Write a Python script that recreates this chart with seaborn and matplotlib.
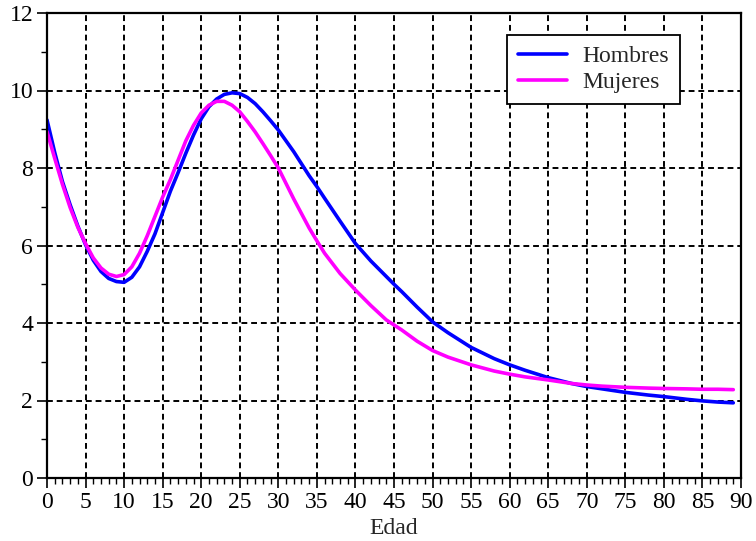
import numpy as np
import pandas as pd
import seaborn as sns
import matplotlib.pyplot as plt
from matplotlib.ticker import MultipleLocator

# Data
edad = [0, 1, 2, 3, 4, 5, 6, 7, 8, 9, 10, 11, 12, 13, 14, 15, 16, 17, 18, 19,
        20, 21, 22, 23, 24, 25, 26, 27, 28, 29, 30, 32, 34, 35, 36, 38, 40,
        42, 44, 45, 46, 48, 50, 52, 55, 58, 60, 62, 65, 68, 70, 72, 75, 78,
        80, 83, 85, 87, 89]

hombres = [9.24, 8.40, 7.65, 7.05, 6.50, 6.02, 5.62, 5.33, 5.15, 5.07, 5.05,
           5.18, 5.45, 5.85, 6.30, 6.85, 7.40, 7.88, 8.38, 8.85, 9.27, 9.58,
           9.78, 9.90, 9.94, 9.92, 9.82, 9.66, 9.45, 9.22, 8.98, 8.42, 7.80,
           7.52, 7.22, 6.63, 6.05, 5.60, 5.20, 5.00, 4.81, 4.41, 4.03, 3.75,
           3.37, 3.08, 2.92, 2.78, 2.59, 2.44, 2.36, 2.30, 2.21, 2.14, 2.10,
           2.03, 1.99, 1.96, 1.94]

mujeres = [8.94, 8.25, 7.58, 6.98, 6.47, 6.05, 5.68, 5.42, 5.26, 5.20, 5.25,
           5.45, 5.80, 6.25, 6.75, 7.25, 7.70, 8.20, 8.70, 9.10, 9.42, 9.62,
           9.72, 9.72, 9.62, 9.45, 9.20, 8.93, 8.63, 8.32, 8.00, 7.20, 6.45,
           6.12, 5.80, 5.28, 4.85, 4.45, 4.08, 3.95, 3.82, 3.53, 3.29, 3.12,
           2.92, 2.76, 2.68, 2.61, 2.53, 2.44, 2.40, 2.37, 2.34, 2.32, 2.31,
           2.30, 2.29, 2.29, 2.28]

df = pd.DataFrame({
    'Edad': edad * 2,
    'valor': hombres + mujeres,
    'grupo': ['Hombres'] * len(edad) + ['Mujeres'] * len(edad),
})

sns.set_style('white')
plt.rcParams['font.family'] = ['Liberation Serif', 'DejaVu Serif']

fig = plt.figure(figsize=(7.56, 5.41), dpi=100)
ax = fig.add_axes([47 / 756, 1 - 478 / 541, 694 / 756, 465 / 541])

sns.lineplot(data=df, x='Edad', y='valor', hue='grupo',
             palette={'Hombres': '#0000ff', 'Mujeres': '#ff00ff'},
             linewidth=2.6, ax=ax)

ax.set_xlim(0, 90)
ax.set_ylim(0, 12)
ax.xaxis.set_major_locator(MultipleLocator(5))
ax.xaxis.set_minor_locator(MultipleLocator(1))
ax.yaxis.set_major_locator(MultipleLocator(2))
ax.yaxis.set_minor_locator(MultipleLocator(1))

ax.grid(True, which='major', color='black', linestyle=(0, (3, 2)), linewidth=1.4)
ax.set_axisbelow(True)

for s in ax.spines.values():
    s.set_color('black')
    s.set_linewidth(1.6)
    s.set_visible(True)

ax.tick_params(which='both', bottom=True, left=True, top=False, right=False)
ax.tick_params(which='major', direction='out', length=7, width=1.2,
               color='black', labelsize=17, labelcolor='black', pad=3)
ax.tick_params(which='minor', direction='out', length=4, width=1.0, color='black')

ax.set_xlabel('Edad', fontsize=17, labelpad=4)
ax.set_ylabel('')

leg = ax.legend(loc='upper right', bbox_to_anchor=(0.912, 0.953),
                borderaxespad=0, fontsize=17, frameon=True, fancybox=False,
                framealpha=1, edgecolor='black', handlelength=2.1,
                borderpad=0.45, labelspacing=0.2, handletextpad=0.65)
leg.get_frame().set_linewidth(1.3)
for line in leg.get_lines():
    line.set_linewidth(2.6)

fig.savefig('out.png', dpi=100)
